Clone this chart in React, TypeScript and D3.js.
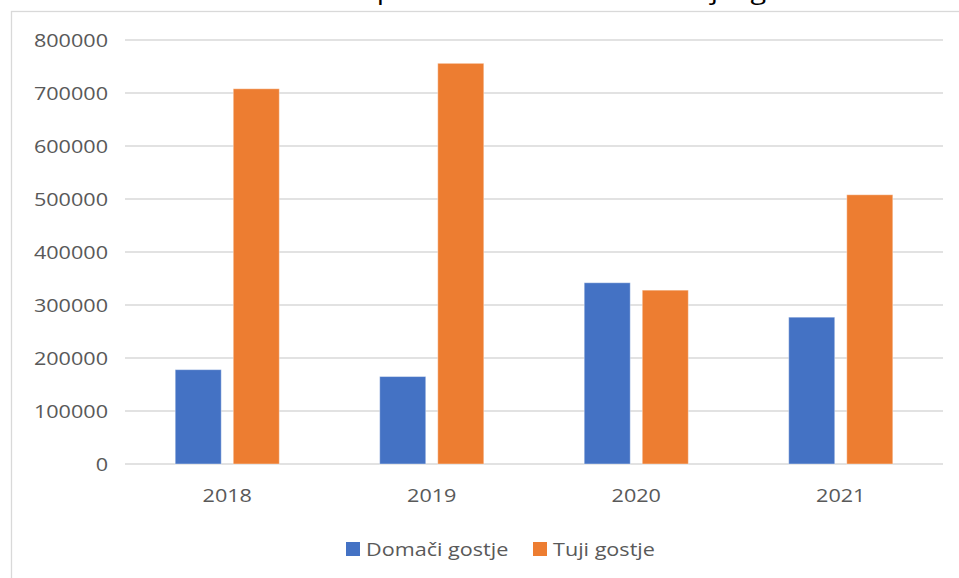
import React from 'react';
import { scaleBand, scaleLinear } from 'd3';

const years = ['2018', '2019', '2020', '2021'];
const domaci = [178000, 165000, 342000, 277000];
const tuji = [708000, 756000, 328000, 508000];
const yTicks = [0, 100000, 200000, 300000, 400000, 500000, 600000, 700000, 800000];
const seriesNames = ['Domači gostje', 'Tuji gostje'];
const colors = ['#4472C4', '#ED7D31'];
const title = 'Število prenočitev domačih in tujih gostov';

const W = 959;
const H = 578;
const left = 125;
const right = 943;
const top = 40;
const bottom = 464;
const font = '"Open Sans", sans-serif';
const sx = 1.2; // text in the picture is a bit wider than Open Sans

export default function App() {
  const x = scaleBand<string>().domain(years).range([left, right]).paddingInner(0.491).paddingOuter(0.2455);
  const inner = scaleBand<string>().domain(seriesNames).range([0, x.bandwidth()]).paddingInner(0.207);
  const y = scaleLinear().domain([0, 800000]).range([bottom, top]);
  const series = [domaci, tuji];

  const label = (tx: number, ty: number, anchor: string, s: string, size = 18, fill = '#595959') => (
    <text transform={`translate(${tx},${ty}) scale(${sx},1)`} textAnchor={anchor} fontFamily={font} fontSize={size} fill={fill}>
      {s}
    </text>
  );

  return (
    <svg width={W} height={H} style={{ position: 'absolute', left: 0, top: 0, background: '#fff' }}>
      <rect x={11.5} y={11.5} width={W + 10} height={H + 10} fill="#fff" stroke="#d9d9d9" strokeWidth={1.3} />
      {/* title sits above the visible area, only its descenders show */}
      {label(560, -1.5, 'middle', title, 24, '#000')}
      {yTicks.map(t => (
        <g key={t}>
          <line x1={left} x2={right} y1={y(t)} y2={y(t)} stroke="#d9d9d9" strokeWidth={1.4} />
          {label(108, y(t) + 6.5, 'end', String(t))}
        </g>
      ))}
      {years.map((yr, i) => (
        <g key={yr} transform={`translate(${x(yr)},0)`}>
          {series.map((s, j) => (
            <rect
              key={j}
              x={inner(seriesNames[j])}
              y={y(s[i])}
              width={inner.bandwidth()}
              height={bottom - y(s[i])}
              fill={colors[j]}
              stroke="#ffffff"
              strokeOpacity={0.4}
              strokeWidth={1}
            />
          ))}
          {label(x.bandwidth() / 2, 502, 'middle', yr)}
        </g>
      ))}
      {seriesNames.map((n, j) => {
        const lx = j === 0 ? 346 : 533;
        return (
          <g key={n}>
            <rect x={lx} y={542} width={14} height={14} fill={colors[j]} />
            {label(lx + 20, 556, 'start', n)}
          </g>
        );
      })}
    </svg>
  );
}
